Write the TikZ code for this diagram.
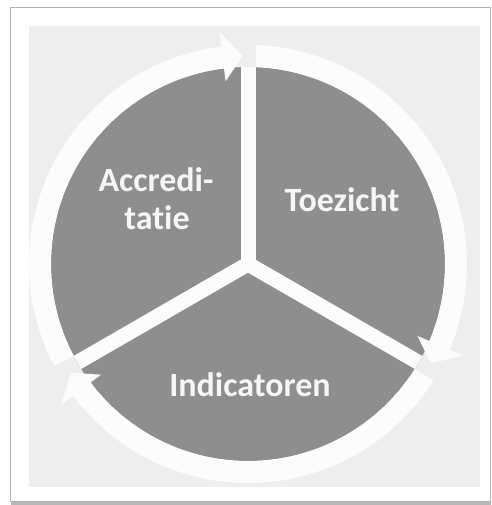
\documentclass[tikz,border=0pt]{standalone}
\usepackage{fontspec}
\setmainfont[Ligatures={NoCommon,NoDiscretionary}]{Carlito}
\definecolor{panelgray}{RGB}{238,238,238}
\definecolor{sectorgray}{RGB}{142,142,142}
\definecolor{bandwhite}{RGB}{252,252,252}
\definecolor{textwhite}{RGB}{246,246,246}
\tikzset{
  lbl/.style={text=textwhite,font=\fontsize{34}{40}\selectfont\bfseries,anchor=base,inner sep=0pt},
  gapline/.style={draw=bandwhite,line width=15pt},
  band/.style={fill=bandwhite}
}
\begin{document}
\begin{tikzpicture}[x=1pt,y=1pt]
\useasboundingbox (0,0) rectangle (491,505);
\fill[white] (0,0) rectangle (491,505);
% shadow and frame
\fill[black!28] (11,0) rectangle (491,5);
\filldraw[fill=white,draw=black!30,line width=0.8pt] (10,4) rectangle (490,498);
\fill[panelgray] (29,18) rectangle (480,479);
\begin{scope}[shift={(248,241)}]
  % dark disc
  \fill[sectorgray] (0,0) circle[radius=197];
  % white gaps between the sectors
  \draw[gapline] (0,0) -- (90:197);
  \draw[gapline] (0,0) -- (210:197);
  \draw[gapline] (0,0) -- (330:197);
  % circular arrows
  \foreach \r in {0,120,240}{
    \fill[band,rotate=\r] (207.8:197) arc[start angle=207.8,end angle=97,radius=197]
      -- (97:184) -- (91.5:208) -- (97:234) -- (97:219)
      arc[start angle=97,end angle=207.8,radius=219] -- cycle;
  }
\end{scope}
\node[lbl] (acc1) at (156,313) {Accredi-};
\node[lbl] (acc2) at (157,275) {tatie};
\node[lbl] (toe) at (342,293) {Toezicht};
\node[lbl] (ind) at (250,108) {Indicatoren};
\end{tikzpicture}
\end{document}
